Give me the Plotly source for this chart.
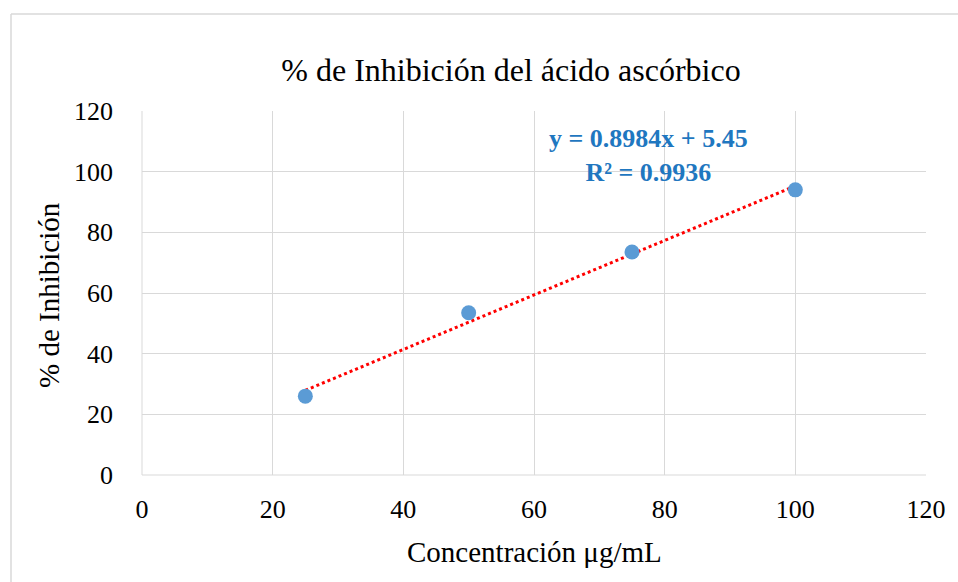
import plotly.graph_objects as go

conc = [25, 50, 75, 100]
inhib = [26, 53.5, 73.5, 94]
slope = 0.8984
intercept = 5.45
trend_x = [25, 100]
trend_y = [slope * v + intercept for v in trend_x]

x_ticks = [0, 20, 40, 60, 80, 100, 120]
y_ticks = [0, 20, 40, 60, 80, 100, 120]

font = "Liberation Serif, Times New Roman, serif"

fig = go.Figure()
fig.add_trace(go.Scatter(x=trend_x, y=trend_y, mode="lines",
                         line=dict(color="#FF0000", width=3, dash="dot"),
                         showlegend=False, hoverinfo="skip"))
fig.add_trace(go.Scatter(x=conc, y=inhib, mode="markers",
                         marker=dict(color="#5B9BD5", size=15),
                         showlegend=False))

W, H = 958, 582
L, T = 142, 111
pw, ph = 784, 364
R = W - L - pw
B = H - T - ph

def px(xf):
    return (xf - L) / pw

def py(yf):
    return (T + ph - yf) / ph

fig.update_layout(
    width=W, height=H,
    margin=dict(l=L, r=R, t=T, b=B),
    paper_bgcolor="white", plot_bgcolor="white",
    font=dict(family=font, color="#000000", size=26),
    title=dict(text="% de Inhibición del ácido ascórbico", x=511 / W,
               xanchor="center", y=1 - 70 / H, yanchor="middle",
               font=dict(size=32, family=font)),
    xaxis=dict(range=[0, 120], tickvals=x_ticks, showgrid=True, gridcolor="#D9D9D9",
               gridwidth=1, zeroline=False, showline=False, ticks="",
               tickfont=dict(size=26, family=font), ticklabelstandoff=16),
    yaxis=dict(range=[0, 120], tickvals=y_ticks, showgrid=True, gridcolor="#D9D9D9",
               gridwidth=1, zeroline=False, showline=False, ticks="",
               tickfont=dict(size=26, family=font), ticklabelstandoff=28),
    shapes=[
        dict(type="line", xref="paper", yref="paper", x0=px(11), x1=px(W), y0=py(14), y1=py(14),
             line=dict(color="#D9D9D9", width=1.5), layer="below"),
        dict(type="line", xref="paper", yref="paper", x0=px(11), x1=px(11), y0=py(14), y1=py(H),
             line=dict(color="#D9D9D9", width=1.5), layer="below"),
        dict(type="line", xref="paper", yref="paper", x0=0, x1=1, y0=0, y1=0,
             line=dict(color="#D9D9D9", width=1)),
        dict(type="line", xref="paper", yref="paper", x0=0, x1=0, y0=0, y1=1,
             line=dict(color="#D9D9D9", width=1)),
    ],
    annotations=[
        dict(text="<b>y = 0.8984x + 5.45</b><br><b>R² = 0.9936</b>", x=77.6, y=105.2,
             xref="x", yref="y", showarrow=False, align="center",
             font=dict(size=26, family=font, color="#1F77C0")),
        dict(text="Concentración μg/mL", x=(534 - 142) / pw, y=(475 - 552) / ph,
             xref="paper", yref="paper", showarrow=False, xanchor="center", yanchor="middle",
             font=dict(size=29, family=font)),
        dict(text="% de Inhibición", x=(49 - 142) / pw, y=(475 - 295) / ph, textangle=-90,
             xref="paper", yref="paper", showarrow=False, xanchor="center", yanchor="middle",
             font=dict(size=29, family=font)),
    ],
)

fig.write_html("out.html", config={"displayModeBar": False},
               post_script="document.body.style.margin='0';document.body.style.overflow='hidden';document.documentElement.style.overflow='hidden';")
